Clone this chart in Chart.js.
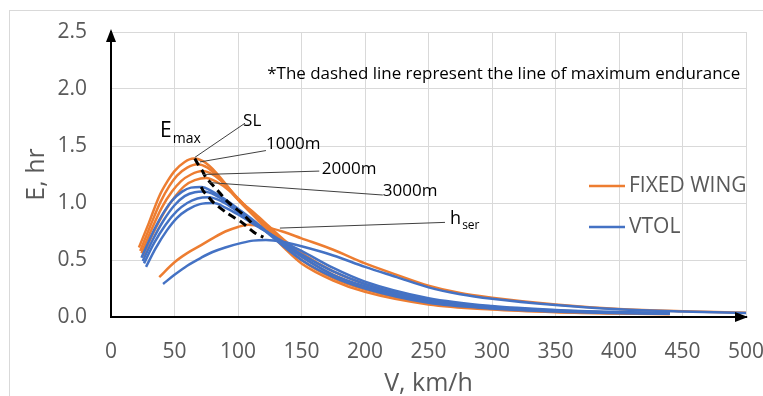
<!DOCTYPE html>
<html>
<head>
<meta charset="utf-8">
<script src="https://cdn.jsdelivr.net/npm/chart.js@4.4.1/dist/chart.umd.min.js"></script>
<style>
  body { margin: 0; background: #fff; }
</style>
</head>
<body>
<canvas id="enduranceChart" width="763" height="396"></canvas>
<script>
// endurance E (hr) against speed V (km/h): [V, E]
const fixedWingSL = [[22,0.61],[30,0.83],[38,1.06],[45,1.2],[50,1.28],[58,1.36],[65,1.39],[72,1.37],[80,1.3],[90,1.17],[100,1.03],[113,0.88],[125,0.74],[137,0.6],[150,0.47],[175,0.32],[200,0.22],[250,0.11],[300,0.065],[350,0.042],[400,0.03],[440,0.025]];
const fixedWing1000 = [[23,0.58],[31,0.8],[39,1.01],[46,1.15],[52,1.24],[60,1.31],[68,1.34],[76,1.31],[85,1.22],[100,1.04],[113,0.89],[125,0.76],[137,0.63],[150,0.5],[175,0.34],[200,0.24],[250,0.12],[300,0.072],[350,0.047],[400,0.034],[440,0.028]];
const fixedWing2000 = [[24,0.56],[32,0.77],[40,0.96],[48,1.1],[55,1.19],[63,1.25],[72,1.28],[80,1.25],[90,1.16],[100,1.04],[113,0.9],[125,0.78],[137,0.65],[150,0.53],[175,0.37],[200,0.26],[250,0.135],[300,0.08],[350,0.052],[400,0.037],[440,0.03]];
const fixedWing3000 = [[25,0.53],[33,0.73],[42,0.92],[50,1.05],[58,1.15],[66,1.2],[75,1.22],[84,1.18],[93,1.11],[100,1.03],[113,0.91],[125,0.79],[137,0.67],[150,0.56],[175,0.4],[200,0.29],[250,0.15],[300,0.09],[350,0.058],[400,0.041],[440,0.033]];
const fixedWingSer = [[38,0.35],[50,0.48],[60,0.56],[71,0.63],[80,0.69],[90,0.75],[100,0.79],[108,0.81],[120,0.795],[135,0.75],[150,0.69],[175,0.59],[200,0.47],[225,0.37],[250,0.275],[275,0.21],[300,0.17],[350,0.11],[400,0.07],[450,0.05],[500,0.038]];

const vtolSL = [[24,0.52],[32,0.72],[40,0.89],[48,1.02],[56,1.1],[63,1.135],[71,1.14],[80,1.1],[90,1.03],[100,0.95],[113,0.84],[125,0.72],[137,0.61],[150,0.5],[175,0.35],[200,0.25],[250,0.125],[300,0.075],[350,0.048],[400,0.034],[440,0.028]];
const vtol1000 = [[25,0.49],[33,0.68],[41,0.84],[50,0.98],[58,1.06],[66,1.095],[73,1.1],[82,1.07],[92,1.0],[100,0.93],[113,0.83],[125,0.73],[137,0.63],[150,0.53],[175,0.37],[200,0.27],[250,0.135],[300,0.08],[350,0.052],[400,0.036],[440,0.03]];
const vtol2000 = [[26,0.47],[34,0.65],[43,0.81],[52,0.93],[60,1.0],[68,1.04],[77,1.05],[86,1.02],[95,0.96],[100,0.92],[113,0.82],[125,0.73],[137,0.64],[150,0.55],[175,0.4],[200,0.29],[250,0.15],[300,0.088],[350,0.056],[400,0.04],[440,0.032]];
const vtol3000 = [[27.6,0.44],[35,0.6],[44,0.76],[52,0.87],[60,0.94],[70,0.99],[81,1.0],[90,0.96],[100,0.9],[113,0.81],[125,0.73],[137,0.65],[150,0.58],[175,0.43],[200,0.31],[250,0.165],[300,0.096],[350,0.062],[400,0.044],[440,0.035]];
const vtolSer = [[41,0.29],[50,0.37],[60,0.45],[71,0.52],[80,0.57],[90,0.61],[103,0.65],[112,0.67],[122,0.675],[135,0.66],[150,0.62],[175,0.54],[200,0.44],[225,0.35],[250,0.26],[275,0.2],[300,0.16],[350,0.105],[400,0.067],[450,0.048],[500,0.036]];

// lines of maximum endurance (dashed)
const fixedWingEmax = [[66,1.39],[68.5,1.34],[72,1.28],[75,1.22],[84,1.11],[92,1.01],[104,0.9],[112,0.81]];
const vtolEmax = [[71,1.14],[73,1.1],[77,1.05],[81,1.0],[91,0.915],[103,0.83],[113,0.74],[120,0.7]];

// callout leaders and their labels, in chart units
const leaderLines = [
  [[66,1.40],[105.5,1.70]],
  [[70,1.36],[122,1.46]],
  [[72.4,1.25],[164,1.28]],
  [[76.4,1.18],[214,1.07]],
  [[133,0.78],[263,0.83]],
];
const calloutText = ["SL", "1000m", "2000m", "3000m"];
const calloutAt = [[104,1.717],[122,1.514],[166,1.294],[214,1.10]];
const subscriptLabels = [["E", "max", 38.6, 1.63], ["h", "ser", 267, 0.863]];
const noteText = "*The dashed line represent the line of maximum endurance";
const noteAt = [123, 2.13];

const xTicks = [0, 50, 100, 150, 200, 250, 300, 350, 400, 450, 500];
const yTicks = [0, 0.5, 1.0, 1.5, 2.0, 2.5];

const ORANGE = "#ED7D31";
const BLUE = "#4472C4";
const FONT = "'Open Sans', sans-serif";

function toXY(points) {
  return points.map(function (p) { return { x: p[0], y: p[1] }; });
}

function curve(points, color) {
  return {
    data: toXY(points),
    borderColor: color,
    borderWidth: 2.5,
    pointRadius: 0,
    fill: false,
    cubicInterpolationMode: "monotone",
  };
}

const datasets = [];
// first dataset is drawn on top in Chart.js
leaderLines.forEach(function (seg) {
  datasets.push({ data: toXY(seg), borderColor: "#404040", borderWidth: 1, pointRadius: 0, tension: 0 });
});
[fixedWingEmax, vtolEmax].forEach(function (pts) {
  datasets.push({ data: toXY(pts), borderColor: "#000", borderWidth: 3, borderDash: [8, 5], pointRadius: 0, tension: 0.2 });
});
[vtolSL, vtol1000, vtol2000, vtol3000, vtolSer].forEach(function (pts) {
  datasets.push(curve(pts, BLUE));
});
[fixedWingSL, fixedWing1000, fixedWing2000, fixedWing3000, fixedWingSer].forEach(function (pts) {
  datasets.push(curve(pts, ORANGE));
});

const decorations = {
  id: "decorations",
  beforeDraw(chart) {
    const ctx = chart.ctx;
    ctx.save();
    ctx.fillStyle = "#fff";
    ctx.fillRect(0, 0, chart.width, chart.height);
    ctx.strokeStyle = "#d9d9d9";
    ctx.lineWidth = 1;
    ctx.strokeRect(9.5, 10.5, chart.width + 10, chart.height + 10);
    ctx.restore();
  },
  afterDraw(chart) {
    const ctx = chart.ctx;
    const area = chart.chartArea;
    const xs = chart.scales.x;
    const ys = chart.scales.y;
    ctx.save();

    // axis arrow heads
    ctx.fillStyle = "#000";
    ctx.beginPath();
    ctx.moveTo(area.left, area.top - 3);
    ctx.lineTo(area.left - 5, area.top + 10);
    ctx.lineTo(area.left + 5, area.top + 10);
    ctx.closePath();
    ctx.fill();
    ctx.beginPath();
    ctx.moveTo(area.right + 2, area.bottom);
    ctx.lineTo(area.right - 11, area.bottom - 5);
    ctx.lineTo(area.right - 11, area.bottom + 5);
    ctx.closePath();
    ctx.fill();

    // callouts
    ctx.fillStyle = "#000";
    ctx.textBaseline = "middle";
    ctx.textAlign = "left";
    ctx.font = "17px " + FONT;
    calloutText.forEach(function (t, i) {
      ctx.fillText(t, xs.getPixelForValue(calloutAt[i][0]), ys.getPixelForValue(calloutAt[i][1]));
    });
    subscriptLabels.forEach(function (s) {
      const px = xs.getPixelForValue(s[2]);
      const py = ys.getPixelForValue(s[3]);
      const big = s[0] === "E" ? 21 : 18;
      ctx.font = big + "px " + FONT;
      ctx.fillText(s[0], px, py);
      const w = ctx.measureText(s[0]).width;
      ctx.font = Math.round(big * 0.68) + "px " + FONT;
      ctx.fillText(s[1], px + w + 1, py + big * 0.38);
    });

    ctx.font = "17px " + FONT;
    ctx.fillText(noteText, xs.getPixelForValue(noteAt[0]), ys.getPixelForValue(noteAt[1]), 473);

    // legend
    const legendItems = [["FIXED WING", ORANGE, 186], ["VTOL", BLUE, 227]];
    ctx.font = "21px " + FONT;
    ctx.fillStyle = "#595959";
    legendItems.forEach(function (item) {
      ctx.strokeStyle = item[1];
      ctx.lineWidth = 2.5;
      ctx.beginPath();
      ctx.moveTo(589, item[2]);
      ctx.lineTo(625, item[2]);
      ctx.stroke();
      ctx.fillText(item[0], 629, item[2]);
    });
    ctx.restore();
  },
};

new Chart(document.getElementById("enduranceChart").getContext("2d"), {
  type: "line",
  data: { datasets: datasets },
  options: {
    responsive: false,
    animation: false,
    layout: { padding: { left: 0, right: 17, top: 32, bottom: 0 } },
    plugins: {
      legend: { display: false },
      tooltip: { enabled: false },
    },
    scales: {
      x: {
        type: "linear",
        min: 0,
        max: 500,
        afterBuildTicks: function (scale) {
          scale.ticks = xTicks.map(function (v) { return { value: v }; });
        },
        afterFit: function (scale) {
          scale.height = 79;
          scale.paddingLeft = 0;
          scale.paddingRight = 0;
        },
        grid: { color: "#d9d9d9", lineWidth: 1, drawTicks: false },
        border: { color: "#000", width: 2 },
        ticks: { color: "#595959", font: { family: FONT, size: 21 }, padding: 22, maxRotation: 0 },
        title: {
          display: true,
          text: "V, km/h",
          color: "#595959",
          font: { family: FONT, size: 25, lineHeight: 1 },
          padding: { top: 0, bottom: 0 },
        },
      },
      y: {
        type: "linear",
        min: 0,
        max: 2.5,
        afterBuildTicks: function (scale) {
          scale.ticks = yTicks.map(function (v) { return { value: v }; });
        },
        afterFit: function (scale) {
          scale.width = 111;
          scale.paddingTop = 0;
          scale.paddingBottom = 0;
        },
        grid: { color: "#d9d9d9", lineWidth: 1, drawTicks: false },
        border: { color: "#000", width: 2 },
        ticks: {
          color: "#595959",
          font: { family: FONT, size: 21 },
          padding: 24,
          callback: function (v) { return Number(v).toFixed(1); },
        },
        title: {
          display: true,
          text: "E, hr",
          color: "#595959",
          font: { family: FONT, size: 25, lineHeight: 1 },
          padding: { top: 24, bottom: 0 },
        },
      },
    },
  },
  plugins: [decorations],
});
</script>
</body>
</html>
